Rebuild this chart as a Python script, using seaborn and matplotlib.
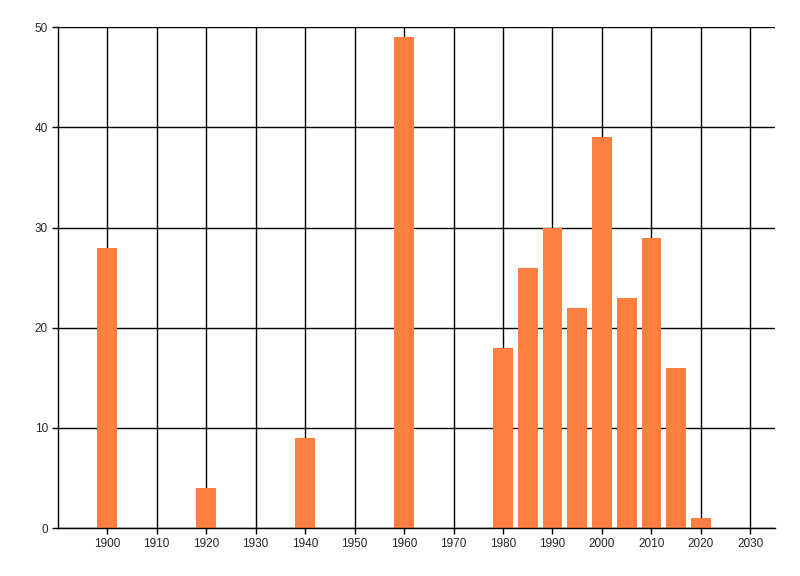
import matplotlib
matplotlib.use("Agg")
import pandas as pd
import numpy as np
import seaborn as sns
from matplotlib import pyplot as plt

years = [1900, 1920, 1940, 1960, 1980, 1985, 1990, 1995, 2000, 2005, 2010, 2015, 2020]
counts = [28, 4, 9, 49, 18, 26, 30, 22, 39, 23, 29, 16, 1]
x_ticks = list(range(1900, 2031, 10))
y_ticks = [0, 10, 20, 30, 40, 50]

df = pd.DataFrame({"year": years, "count": counts})

sns.set_style("white")
plt.rcParams["font.family"] = ["Liberation Sans", "DejaVu Sans"]

fig = plt.figure(figsize=(8, 5.76), dpi=100)
ax = fig.add_axes([0.072, 0.083, 0.897, 0.87])

sns.barplot(data=df, x="year", y="count", native_scale=True, width=0.8,
            color="#FF7F40", saturation=1, linewidth=0, edgecolor="none",
            ax=ax, zorder=2)

ax.set_xlim(1890, 2035)
ax.set_ylim(0, 50)
ax.set_xticks(x_ticks)
ax.set_yticks(y_ticks)
ax.grid(True, color="black", linewidth=1)
ax.set_axisbelow(True)
for side in ["top", "right"]:
    ax.spines[side].set_visible(False)
for side in ["left", "bottom"]:
    ax.spines[side].set_color("black")
    ax.spines[side].set_linewidth(1)
ax.tick_params(axis="both", direction="out", length=4, width=1, color="black",
               labelsize=8.5, pad=3, left=True, bottom=True)
ax.set_xlabel("")
ax.set_ylabel("")

fig.savefig("out.png", dpi=100)
